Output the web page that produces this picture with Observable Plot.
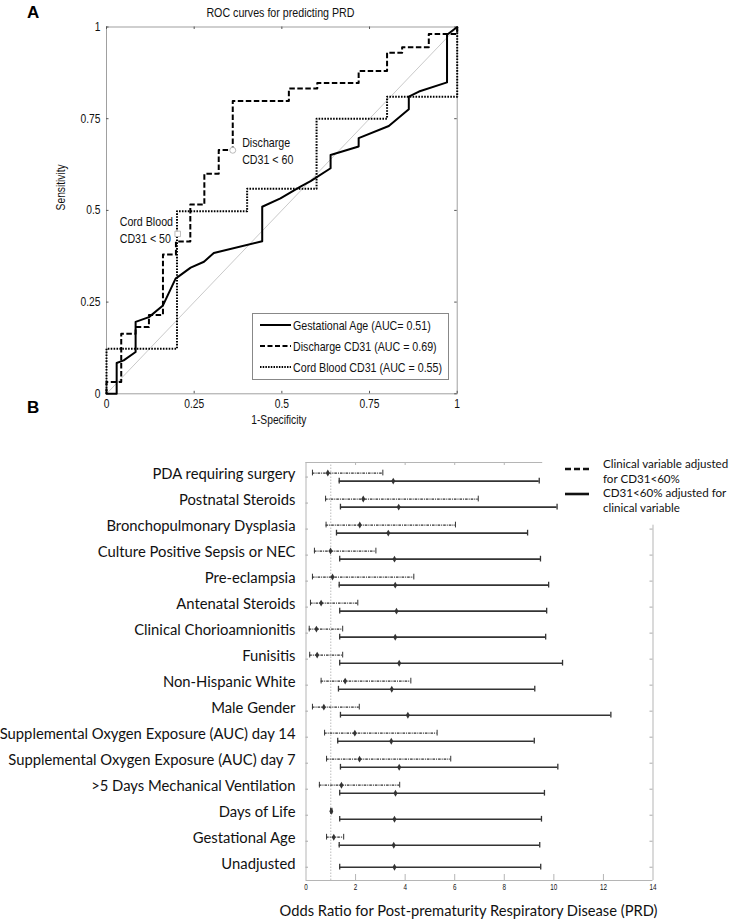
<!DOCTYPE html>
<html><head><meta charset="utf-8">
<script src="https://cdn.jsdelivr.net/npm/d3@7"></script>
<script src="https://cdn.jsdelivr.net/npm/@observablehq/plot@0.6"></script>
<style>
body{margin:0;background:#fff;}
#wrap{position:relative;width:736px;height:923px;overflow:hidden;background:#fff;}
.abs{position:absolute;}
.narrow{font-family:"Liberation Sans",Arial,sans-serif;}
.cal{font-family:Lato,"Open Sans",sans-serif;}
.panel{font:bold 17px "Liberation Sans",Arial,sans-serif;line-height:17px;color:#000;}
.legA{border:1px solid #888;background:#fff;box-sizing:border-box;}
.legA .row{position:absolute;left:0;height:20px;display:flex;align-items:center;font-size:13px;color:#111;white-space:nowrap;}
.legA .row span{display:inline-block;transform:scaleX(0.82);transform-origin:0 50%;}
</style></head><body><div id="wrap">
<div id="plotA" class="abs" style="left:0;top:0"></div>
<div id="plotB" class="abs" style="left:0;top:440px"></div>
<div class="abs panel" style="left:27px;top:4px">A</div>
<div class="abs panel" style="left:27px;top:399px">B</div>

<div class="abs legA narrow" style="left:252px;top:313px;width:197px;height:67px">
  <div class="row" style="top:1px"><svg width="40" height="20"><line x1="7" x2="38" y1="10" y2="10" stroke="#000" stroke-width="2"/></svg><span>Gestational Age (AUC= 0.51)</span></div>
  <div class="row" style="top:22px"><svg width="40" height="20"><line x1="7" x2="38" y1="10" y2="10" stroke="#000" stroke-width="2" stroke-dasharray="5,2.5"/></svg><span>Discharge CD31 (AUC = 0.69)</span></div>
  <div class="row" style="top:43px"><svg width="40" height="20"><line x1="7" x2="38" y1="10" y2="10" stroke="#000" stroke-width="2" stroke-dasharray="1.5,1.2"/></svg><span>Cord Blood CD31 (AUC = 0.55)</span></div>
</div>

<svg class="abs" style="left:563px;top:462px" width="30" height="40">
  <line x1="2" x2="26" y1="7" y2="7" stroke="#111" stroke-width="2.6" stroke-dasharray="6,3"/>
  <line x1="2" x2="26" y1="32" y2="32" stroke="#111" stroke-width="2.6"/>
</svg>
<div class="abs cal" style="left:603px;top:457px;font-size:11.6px;line-height:14.7px;color:#111;white-space:nowrap">Clinical variable adjusted<br>for CD31&lt;60%<br>CD31&lt;60% adjusted for<br>clinical variable</div>
</div>
<script>
// ---------- Panel A: ROC curves ----------
const rocTicks = [0, 0.25, 0.5, 0.75, 1];
// Gestational Age (solid)
const gaFPR = [0, 0.029, 0.029, 0.049, 0.083, 0.083, 0.121, 0.161, 0.197, 0.240, 0.278, 0.306, 0.444, 0.444, 0.496, 0.553, 0.582, 0.639, 0.639, 0.719, 0.719, 0.805, 0.862, 0.862, 0.891, 0.971, 0.971, 1];
const gaTPR = [0, 0, 0.084, 0.091, 0.114, 0.196, 0.209, 0.241, 0.314, 0.344, 0.360, 0.384, 0.416, 0.510, 0.533, 0.565, 0.580, 0.615, 0.651, 0.674, 0.697, 0.730, 0.776, 0.810, 0.824, 0.849, 0.979, 1];
// Discharge CD31 (dashed, step)
const dcFPR = [0, 0.042, 0.083, 0.121, 0.161, 0.198, 0.239, 0.279, 0.320, 0.360, 0.520, 0.601, 0.719, 0.800, 0.843, 0.919, 1, 1];
const dcTPR = [0, 0.032, 0.164, 0.182, 0.215, 0.380, 0.415, 0.516, 0.600, 0.665, 0.798, 0.832, 0.847, 0.880, 0.930, 0.945, 0.981, 1];
// Cord Blood CD31 (dotted, step)
const cbFPR = [0, 0.201, 0.401, 0.599, 0.800, 1.0, 1];
const cbTPR = [0, 0.123, 0.498, 0.559, 0.750, 0.810, 1];
// cut-off annotations
const annoLabels = ["Discharge\nCD31 < 60", "Cord Blood\nCD31 < 50"];
const annoFPR = [0.360, 0.203];
const annoTPR = [0.664, 0.436];

// ---------- Panel B: forest plot ----------
const rowLabels = ["PDA requiring surgery", "Postnatal Steroids", "Bronchopulmonary Dysplasia", "Culture Positive Sepsis or NEC", "Pre-eclampsia", "Antenatal Steroids", "Clinical Chorioamnionitis", "Funisitis", "Non-Hispanic White", "Male Gender", "Supplemental Oxygen Exposure (AUC) day 14", "Supplemental Oxygen Exposure (AUC) day 7", ">5 Days Mechanical Ventilation", "Days of Life", "Gestational Age", "Unadjusted"];
// Clinical variable adjusted for CD31<60% (dashed)
const clinOR   = [0.88, 2.31, 2.17, 0.99, 1.07, 0.61, 0.42, 0.45, 1.58, 0.72, 1.97, 2.16, 1.43, 1.02, 1.12, null];
const clinLow  = [0.26, 0.79, 0.81, 0.34, 0.26, 0.18, 0.13, 0.15, 0.61, 0.26, 0.75, 0.83, 0.54, 0.99, 0.83, null];
const clinHigh = [3.10, 6.95, 6.03, 2.82, 4.35, 2.09, 1.48, 1.48, 4.23, 2.15, 5.29, 5.84, 3.78, 1.05, 1.52, null];
// CD31<60% adjusted for clinical variable (solid)
const cdOR   = [3.52, 3.74, 3.32, 3.57, 3.60, 3.65, 3.60, 3.76, 3.46, 4.11, 3.44, 3.76, 3.61, 3.57, 3.54, 3.57];
const cdLow  = [1.34, 1.39, 1.23, 1.36, 1.34, 1.36, 1.36, 1.36, 1.31, 1.39, 1.28, 1.39, 1.36, 1.36, 1.34, 1.36];
const cdHigh = [9.41, 10.13, 8.94, 9.46, 9.79, 9.71, 9.67, 10.35, 9.23, 12.30, 9.21, 10.16, 9.62, 9.50, 9.43, 9.47];
const orTicks = [0, 2, 4, 6, 8, 10, 12, 14];

const NARROW = '"Liberation Sans",Arial,sans-serif';
const CAL = 'Lato,"Open Sans",sans-serif';

// condense SVG text horizontally (Helvetica-Narrow look)
function condense(svg, factor, selector) {
  svg.querySelectorAll(selector || "text").forEach(t => {
    const spans = t.querySelectorAll("tspan");
    const targets = spans.length ? Array.from(spans) : [t];
    targets.forEach(el => {
      const w = el.getComputedTextLength();
      if (w > 0) {
        el.setAttribute("textLength", (w * factor).toFixed(2));
        el.setAttribute("lengthAdjust", "spacingAndGlyphs");
      }
    });
  });
}

// ---- build A ----
const ga = gaFPR.map((x, i) => ({x, y: gaTPR[i]}));
const dc = dcFPR.map((x, i) => ({x, y: dcTPR[i]}));
const cb = cbFPR.map((x, i) => ({x, y: cbTPR[i]}));
const annos = annoLabels.map((t, i) => ({t, x: annoFPR[i], y: annoTPR[i]}));

const plotA = Plot.plot({
  width: 736, height: 440,
  marginLeft: 106, marginRight: 279.3, marginTop: 26.5, marginBottom: 46.7,
  x: {domain: [0, 1]}, y: {domain: [0, 1]},
  style: {fontFamily: NARROW, fontSize: "12.5px", color: "#111", background: "transparent"},
  marks: [
    Plot.frame({stroke: "#a0a0a0"}),
    Plot.ruleX(rocTicks, {y1: 1, y2: 1, insetBottom: -2.5, stroke: "#555"}),
    Plot.ruleX(rocTicks, {y1: 0, y2: 0, insetTop: -2.5, stroke: "#555"}),
    Plot.ruleY(rocTicks, {x1: 0, x2: 0, insetRight: -2.5, stroke: "#555"}),
    Plot.ruleY(rocTicks, {x1: 1, x2: 1, insetLeft: -2.5, stroke: "#555"}),
    Plot.link([0], {x1: 0, y1: 0, x2: 1, y2: 1, stroke: "#bbb", strokeWidth: 0.8}),
    Plot.line(cb, {x: "x", y: "y", curve: "step-before", stroke: "#000", strokeWidth: 2, strokeDasharray: "1.6,1.3", strokeLinecap: "butt"}),
    Plot.line(dc, {x: "x", y: "y", curve: "step-before", stroke: "#000", strokeWidth: 2, strokeDasharray: "5.5,2.5", strokeLinecap: "butt"}),
    Plot.line(ga, {x: "x", y: "y", stroke: "#000", strokeWidth: 2}),
    Plot.dot(annos.slice(0, 1), {x: "x", y: "y", r: 3, stroke: "#aaa", fill: "white", strokeWidth: 0.8}),
    Plot.dot(annos.slice(1), {x: "x", y: "y", r: 3.5, symbol: "square2", stroke: "#aaa", fill: "white", strokeWidth: 0.8}),
    Plot.text(annos.slice(0, 1), {x: "x", y: "y", text: "t", textAnchor: "start", dx: 9.4, lineHeight: 1.3, fontSize: 13}),
    Plot.text(annos.slice(1), {x: "x", y: "y", text: "t", textAnchor: "start", dx: -58, dy: -5, lineHeight: 1.3, fontSize: 13}),
    Plot.axisX(rocTicks, {tickSize: 0, tickPadding: 5.5, tickFormat: d => String(d), label: null, fontSize: 12.5}),
    Plot.axisY(rocTicks, {tickSize: 0, tickPadding: 6, tickFormat: d => String(d), label: null, fontSize: 12.5}),
    Plot.text(["ROC curves for predicting PRD"], {text: d => d, frameAnchor: "top", dy: -19.5, dx: -1.4, fontSize: 13}),
    Plot.text(["Sensitivity"], {text: d => d, frameAnchor: "left", dx: -46, rotate: -90, fontSize: 12.5}),
    Plot.text(["1-Specificity"], {text: d => d, frameAnchor: "bottom", dy: 30, dx: -3, fontSize: 12.5})
  ]
});
document.getElementById("plotA").append(plotA);
condense(plotA, 0.82);

// ---- build B ----
const nRows = rowLabels.length;
const rows = rowLabels.map((label, k) => ({
  label, pos: nRows - 1 - k,
  clin: clinOR[k], clinLo: clinLow[k], clinHi: clinHigh[k],
  cd: cdOR[k], cdLo: cdLow[k], cdHi: cdHigh[k]
}));
const off = 0.155, cap = 0.11;
const clinRows = rows.filter(r => r.clin != null).map(r => ({...r, yc: r.pos + off}));
const cdRows = rows.map(r => ({...r, yc: r.clin != null ? r.pos - off : r.pos}));
const yMin = -0.51, yMax = 15.56;
const frameTopEnd = 9.55;   // legend overlaps the top-right of the frame
const frameRightTop = 13.15;
const dashClin = "2.6,1,1,1";

const plotB = Plot.plot({
  width: 736, height: 483,
  marginLeft: 305.5, marginRight: 83.5, marginTop: 22, marginBottom: 43,
  x: {domain: [0, 14]}, y: {domain: [yMin, yMax]},
  style: {fontFamily: CAL, fontSize: "14.8px", color: "#111", background: "transparent"},
  marks: [
    // frame pieces
    Plot.ruleX([0], {y1: yMin, y2: yMax, stroke: "#b5b5b5"}),
    Plot.ruleY([yMin], {x1: 0, x2: 14, stroke: "#b5b5b5"}),
    Plot.ruleY([yMax], {x1: 0, x2: frameTopEnd, stroke: "#b5b5b5"}),
    Plot.ruleX([14], {y1: yMin, y2: frameRightTop, stroke: "#b5b5b5"}),
    // inner ticks
    Plot.ruleX(orTicks.slice(1, -1), {y1: yMin, y2: yMin, insetTop: -6, stroke: "#b5b5b5"}),
    Plot.ruleX(orTicks.filter(t => t > 0 && t < frameTopEnd), {y1: yMax, y2: yMax, insetBottom: -3, stroke: "#b5b5b5"}),
    Plot.ruleY(rows.map(r => r.pos), {x1: 0, x2: 0, insetRight: -2.5, stroke: "#aaa"}),
    Plot.ruleY(rows.map(r => r.pos).filter(p => p <= 13), {x1: 14, x2: 14, insetLeft: -3, stroke: "#aaa"}),
    // reference OR = 1
    Plot.ruleX([1], {y1: yMin, y2: yMax, stroke: "#bdbdbd", strokeDasharray: "1.5,1.5"}),
    // clinical variable (dashed)
    Plot.ruleY(clinRows, {y: "yc", x1: "clinLo", x2: "clinHi", stroke: "#333", strokeWidth: 1.3, strokeDasharray: dashClin}),
    Plot.ruleX(clinRows, {x: "clinLo", y1: r => r.yc - cap, y2: r => r.yc + cap, stroke: "#333", strokeWidth: 1}),
    Plot.ruleX(clinRows, {x: "clinHi", y1: r => r.yc - cap, y2: r => r.yc + cap, stroke: "#333", strokeWidth: 1}),
    Plot.dot(clinRows, {x: "clin", y: "yc", symbol: "diamond", r: 2.1, fill: "#333"}),
    // CD31 (solid)
    Plot.ruleY(cdRows, {y: "yc", x1: "cdLo", x2: "cdHi", stroke: "#333", strokeWidth: 1.6}),
    Plot.ruleX(cdRows, {x: "cdLo", y1: r => r.yc - cap, y2: r => r.yc + cap, stroke: "#333", strokeWidth: 1.3}),
    Plot.ruleX(cdRows, {x: "cdHi", y1: r => r.yc - cap, y2: r => r.yc + cap, stroke: "#333", strokeWidth: 1.3}),
    Plot.dot(cdRows, {x: "cd", y: "yc", symbol: "diamond", r: 2.1, fill: "#333"}),
    // axes
    Plot.axisY(rows.map(r => r.pos), {tickSize: 0, tickPadding: 10.5, dy: -3, tickFormat: p => rowLabels[nRows - 1 - p], label: null, fontSize: 14.8, fontFamily: CAL}),
    Plot.axisX(orTicks, {tickSize: 0, tickPadding: 3, label: null, fontSize: 9, fontFamily: NARROW, tickFormat: d => String(d), className: "orticks"}),
    Plot.text(["Odds Ratio for Post-prematurity Respiratory Disease (PRD)"], {text: d => d, frameAnchor: "bottom", dy: 35, dx: -11, fontSize: 14.7, fontFamily: CAL})
  ]
});
document.getElementById("plotB").append(plotB);
condense(plotB, 0.7, "g[aria-label='x-axis tick label'] text");
</script>
</body></html>
